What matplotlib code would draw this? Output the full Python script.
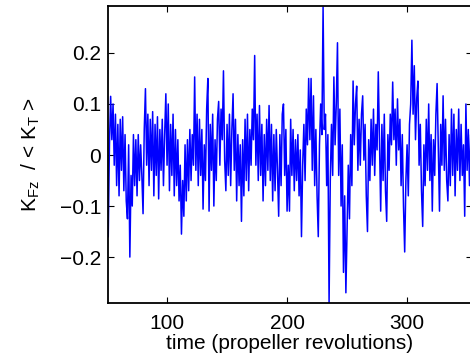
import numpy as np
import matplotlib.pyplot as plt

plt.rcParams['font.family'] = ['Liberation Sans', 'DejaVu Sans']
plt.rcParams['mathtext.fontset'] = 'custom'
plt.rcParams['mathtext.rm'] = 'Liberation Sans'
plt.rcParams['mathtext.it'] = 'Liberation Sans'

# force coefficient ratio, one sample per propeller revolution
t_start = 51
kfz_ratio = [
    -0.16, 0.02, 0.115, 0.03, 0.10, -0.02, 0.08, -0.06, 0.06, -0.08,
    0.07, -0.03, 0.075, -0.07, 0.04, -0.09, -0.125, 0.02, -0.20, -0.04,
    -0.10, 0.04, -0.06, 0.03, -0.08, 0.04, -0.05, 0.02, -0.04, -0.115,
    0.05, 0.13, -0.02, 0.08, -0.06, 0.07, -0.03, 0.085, -0.08, 0.06,
    -0.04, 0.075, -0.086, 0.05, -0.03, 0.07, -0.06, 0.04, 0.12, -0.02,
    0.10, -0.07, 0.06, -0.04, 0.08, -0.08, 0.05, -0.06, 0.03, -0.09,
    -0.02, -0.155, -0.05, -0.12, 0.02, -0.09, 0.03, -0.07, 0.05, -0.05,
    0.04, -0.02, 0.153, -0.03, 0.08, -0.06, 0.07, -0.04, 0.05, -0.106,
    0.02, -0.05, 0.09, 0.15, -0.11, 0.06, -0.03, 0.08, -0.10, 0.03,
    -0.05, 0.07, 0.105, -0.02, 0.09, 0.03, 0.165, -0.01, -0.07, 0.06,
    -0.04, 0.08, -0.06, 0.05, 0.12, -0.03, 0.07, -0.09, 0.04, -0.06,
    0.02, -0.13, 0.03, -0.08, 0.07, -0.05, 0.08, -0.07, 0.05, -0.02,
    0.09, 0.03, 0.195, -0.02, 0.08, -0.05, 0.097, -0.04, 0.06, -0.09,
    0.04, -0.06, 0.07, -0.03, 0.097, -0.05, 0.06, -0.09, 0.04, -0.07,
    0.05, -0.03, -0.12, 0.04, -0.06, 0.08, 0.10, -0.04, 0.05, -0.11,
    -0.02, -0.11, 0.07, -0.04, 0.05, -0.07, 0.03, -0.05, 0.04, -0.08,
    0.01, -0.16, -0.02, 0.06, -0.05, 0.09, 0.02, 0.15, 0.03, 0.15,
    -0.03, 0.116, -0.06, 0.05, -0.08, -0.16, 0.02, 0.10, 0.04, 0.29,
    0.05, 0.08, -0.06, 0.04, -0.29, -0.05, 0.06, -0.04, 0.153, 0.02,
    0.10, 0.22, -0.04, 0.09, -0.10, 0.02, -0.23, -0.08, -0.27, -0.15,
    -0.02, -0.125, 0.04, -0.06, 0.145, 0.02, 0.10, 0.135, -0.03, 0.07,
    -0.02, 0.08, 0.116, -0.01, 0.06, -0.08, -0.15, 0.03, -0.05, 0.07,
    -0.02, 0.09, -0.04, 0.06, 0.01, 0.163, 0.03, -0.11, 0.06, -0.05,
    0.08, -0.07, -0.13, 0.04, -0.03, 0.08, 0.02, 0.143, 0.03, 0.09,
    -0.02, 0.11, 0.01, 0.07, -0.06, 0.04, -0.10, -0.19, -0.05, 0.02,
    -0.08, 0.06, 0.10, 0.225, 0.08, 0.175, 0.03, 0.11, 0.145, -0.02,
    0.06, -0.07, -0.14, 0.02, -0.06, 0.07, -0.03, 0.10, -0.05, 0.04,
    -0.11, 0.03, -0.04, 0.08, 0.14, 0.01, -0.11, 0.06, -0.02, 0.116,
    -0.03, 0.07, -0.05, -0.09, 0.04, -0.06, 0.09, -0.04, 0.08, -0.08,
    0.05, -0.03, 0.09, -0.05, 0.06, -0.04, 0.02, -0.12, 0.10, -0.03,
    0.05, -0.06, 0.04, -0.02, 0.03,
]
revs = t_start + np.arange(len(kfz_ratio))

x_ticks = [100, 200, 300]
y_ticks = [-0.2, -0.1, 0, 0.1, 0.2]
y_tick_labels = ['\u22120.2', '\u22120.1', '0', '0.1', '0.2']

fig = plt.figure(figsize=(4.7, 3.64), dpi=100)
# right spine just past the image edge, like the cropped original
ax = fig.add_axes([0.2298, 0.1676, 0.7745, 0.8159])
ax.plot(revs, kfz_ratio, color='#0000ff', linewidth=1.1)

ax.set_xlim(50.8, 354.1)
ax.set_ylim(-0.29, 0.292)
ax.set_xticks(x_ticks)
ax.set_yticks(y_ticks)
ax.set_yticklabels(y_tick_labels)
ax.tick_params(direction='in', top=True, right=True, length=4, width=0.8,
               labelsize=15)
ax.tick_params(axis='x', pad=8)
ax.tick_params(axis='y', pad=5)
for s in ax.spines.values():
    s.set_linewidth(1.3)

ax.set_xlabel('time (propeller revolutions)', fontsize=15, labelpad=1)
ax.set_ylabel(r'K$_{\mathrm{Fz}}$  / < K$_{\mathrm{T}}$ >', fontsize=15)
ax.yaxis.set_label_coords(-0.18, 0.5)

fig.savefig('out.png', dpi=100)
